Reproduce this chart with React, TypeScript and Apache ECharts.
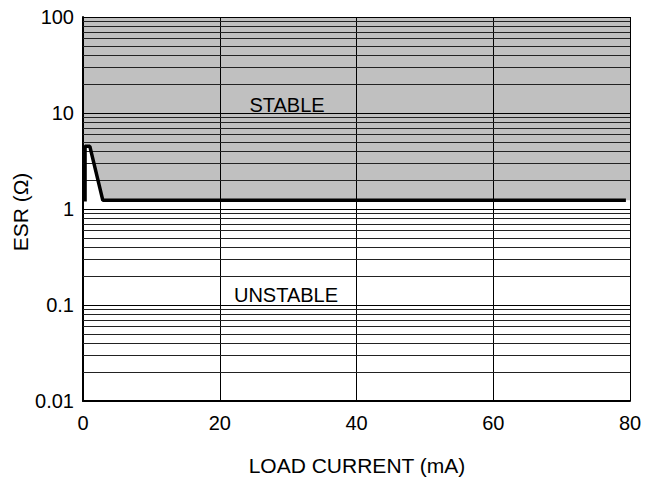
import React, { useEffect, useRef } from "react";
import * as echarts from "echarts";

// ESR boundary curve (load current mA, ESR ohm)
const curveCurrent = [0.3, 0.3, 1.0, 2.9, 79.4];
const curveESR = [1.2, 4.5, 4.5, 1.23, 1.23];

// Stable-region boundary (shaded above)
const shadeCurrent = [0, 1.0, 2.9, 80];
const shadeESR = [4.5, 4.5, 1.23, 1.23];

// Minor log gridlines
const minorGrid = [
  0.02, 0.03, 0.04, 0.05, 0.06, 0.07, 0.08, 0.09,
  0.2, 0.3, 0.4, 0.5, 0.6, 0.7, 0.8, 0.9,
  2, 3, 4, 5, 6, 7, 8, 9,
  20, 30, 40, 50, 60, 70, 80, 90,
];

const xTicks = [0, 20, 40, 60, 80];

const FONT = "Liberation Sans, Arial, Helvetica, sans-serif";

export default function App() {
  const ref = useRef<HTMLDivElement>(null);
  useEffect(() => {
    if (!ref.current) return;
    const chart = echarts.init(ref.current, undefined, { renderer: "svg" });
    chart.setOption({
      animation: false,
      backgroundColor: "#fff",
      grid: { left: 83, right: 15, top: 17, bottom: 78 },
      xAxis: {
        type: "value",
        min: xTicks[0],
        max: xTicks[xTicks.length - 1],
        interval: 20,
        z: 3,
        axisLine: { show: true, lineStyle: { color: "#000", width: 2 } },
        axisTick: { show: false },
        axisLabel: { color: "#000", fontSize: 20, fontFamily: FONT, margin: 12 },
        splitLine: { show: true, lineStyle: { color: "#000", width: 1 } },
      },
      yAxis: {
        type: "log",
        logBase: 10,
        min: 0.01,
        max: 100,
        z: 3,
        axisLine: { show: true, lineStyle: { color: "#000", width: 2 } },
        axisTick: { show: false },
        axisLabel: {
          color: "#000",
          fontSize: 20,
          fontFamily: FONT,
          margin: 9,
          formatter: (v: number) => String(v),
        },
        splitLine: { show: true, lineStyle: { color: "#000", width: 1 } },
      },
      series: [
        {
          type: "line",
          z: 1,
          data: shadeCurrent.map((x, i) => [x, shadeESR[i]]),
          symbol: "none",
          lineStyle: { width: 0 },
          areaStyle: { origin: "end", color: "#c0c0c0", opacity: 1 },
          silent: true,
        },
        {
          type: "line",
          z: 4,
          data: [],
          symbol: "none",
          silent: true,
          markLine: {
            z: 4,
            silent: true,
            symbol: ["none", "none"],
            label: { show: false },
            lineStyle: { color: "#222", width: 1, type: "solid" },
            emphasis: { disabled: true },
            data: minorGrid.map((v) => ({ yAxis: v })),
          },
        },
        {
          type: "line",
          z: 10,
          data: curveCurrent.map((x, i) => [x, curveESR[i]]),
          symbol: "none",
          lineStyle: { color: "#000", width: 3.5 },
          silent: true,
        },
      ],
      graphic: [
        {
          type: "text",
          x: 287,
          y: 105,
          z: 20,
          style: { text: "STABLE", font: `20px ${FONT}`, fill: "#000", align: "center", verticalAlign: "middle" },
        },
        {
          type: "text",
          x: 286,
          y: 295,
          z: 20,
          style: { text: "UNSTABLE", font: `20px ${FONT}`, fill: "#000", align: "center", verticalAlign: "middle" },
        },
        {
          type: "text",
          x: 357,
          y: 465,
          style: { text: "LOAD CURRENT (mA)", font: `21px ${FONT}`, fill: "#000", align: "center", verticalAlign: "middle" },
        },
        {
          type: "text",
          x: 20,
          y: 212,
          rotation: Math.PI / 2,
          style: { text: "ESR (Ω)", font: `21px ${FONT}`, fill: "#000", align: "center", verticalAlign: "middle" },
        },
      ],
    });
    return () => chart.dispose();
  }, []);
  return (
    <div
      ref={ref}
      style={{ position: "absolute", left: 0, top: 0, width: 645, height: 479 }}
    />
  );
}
